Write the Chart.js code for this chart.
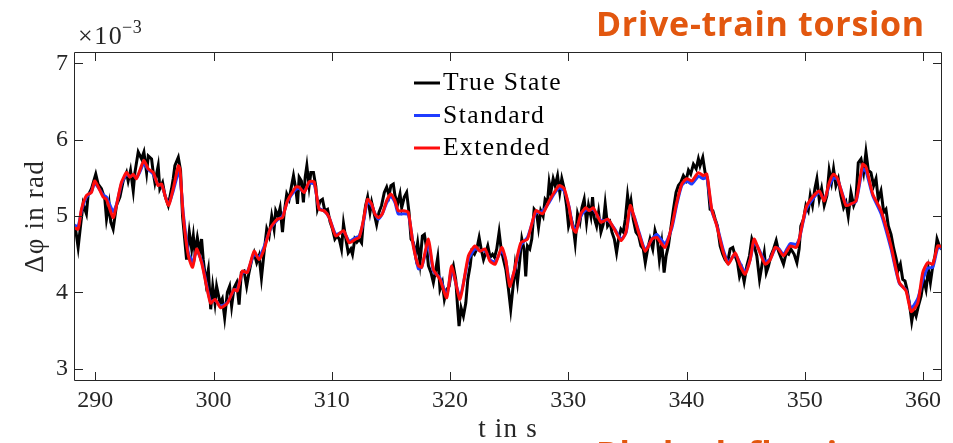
<!DOCTYPE html>
<html>
<head>
<meta charset="utf-8">
<title>Drive-train torsion</title>
<script src="https://cdn.jsdelivr.net/npm/chart.js@4.4.1/dist/chart.umd.min.js"></script>
<style>
    html, body { margin: 0; padding: 0; background: #ffffff; }
    #wrap { width: 953px; height: 443px; }
</style>
</head>
<body>
<div id="wrap"><canvas id="torsionChart" width="953" height="443"></canvas></div>
<script>
// tick positions (t in s, angle in 1e-3 rad)
const xTicks = [290, 300, 310, 320, 330, 340, 350, 360];
const yTicks = [3, 4, 5, 6, 7];

// estimator outputs share one time base
const estTime = [
    288.2, 288.55, 288.83, 289.25, 289.67, 289.96, 290.66, 290.94, 291.51, 291.79,
    292.21, 292.64, 292.93, 293.21, 293.48, 293.77, 294.11, 294.48, 294.9, 295.32,
    295.6, 296.18, 296.59, 297.02, 297.16, 297.44, 297.87, 298.23, 298.57, 298.99,
    299.41, 299.75, 300.13, 300.6, 301.17, 301.73, 302.01, 302.44, 302.86, 303.43,
    303.85, 304.28, 304.83, 305.4, 305.83, 306.25, 306.95, 307.24, 307.66, 308.09,
    308.51, 308.93, 309.36, 309.78, 310.34, 310.99, 311.47, 312.03, 312.32, 312.69,
    313.02, 313.36, 313.64, 313.93, 314.27, 314.63, 315.0, 315.34, 315.62, 316.05,
    316.47, 316.89, 317.32, 317.6, 318.17, 318.59, 319.15, 319.72, 320.14, 320.84,
    321.55, 322.11, 322.54, 322.96, 323.38, 323.81, 324.37, 324.71, 325.05, 325.42,
    325.98, 326.55, 327.25, 327.82, 328.38, 328.8, 329.23, 329.65, 330.07, 330.36,
    330.64, 331.06, 331.49, 331.77, 332.11, 332.76, 333.33, 333.89, 334.45, 334.88,
    335.24, 335.58, 336.0, 336.51, 337.08, 337.48, 338.18, 338.75, 339.17, 339.59,
    340.02, 340.44, 341.0, 341.42, 341.71, 342.13, 342.56, 343.12, 343.54, 344.11,
    344.53, 344.95, 345.38, 345.71, 346.08, 346.65, 347.07, 347.49, 347.77, 348.2,
    348.76, 349.27, 349.53, 350.1, 350.65, 351.22, 351.64, 352.07, 352.43, 352.77,
    353.48, 353.91, 354.33, 354.89, 355.18, 355.74, 356.45, 357.29, 357.99, 358.56,
    358.99, 359.55, 359.97, 360.39, 360.82, 361.24, 361.66
];

const extendedVals = [
    4.85, 4.83, 5.09, 5.27, 5.31, 5.46, 5.25, 5.22, 4.98, 5.14,
    5.44, 5.57, 5.51, 5.55, 5.49, 5.60, 5.73, 5.62, 5.57, 5.40,
    5.42, 5.14, 5.36, 5.66, 5.62, 5.00, 4.48, 4.33, 4.57, 4.39,
    4.08, 3.86, 3.91, 3.80, 3.86, 4.04, 4.02, 4.28, 4.26, 4.54,
    4.43, 4.57, 4.85, 4.96, 4.98, 5.20, 5.38, 5.38, 5.31, 5.45,
    5.45, 5.09, 5.07, 4.98, 4.74, 4.81, 4.65, 4.70, 4.72, 4.96,
    5.22, 5.16, 5.03, 4.98, 5.03, 5.20, 5.29, 5.20, 5.07, 5.07,
    5.05, 4.61, 4.35, 4.33, 4.70, 4.30, 4.17, 3.93, 4.35, 3.91,
    4.48, 4.61, 4.54, 4.57, 4.41, 4.37, 4.59, 4.43, 4.08, 4.28,
    4.65, 4.70, 5.07, 5.03, 5.20, 5.31, 5.40, 5.36, 5.11, 4.85,
    4.79, 5.03, 5.11, 5.07, 5.11, 4.92, 4.96, 4.83, 4.68, 4.79,
    5.14, 4.98, 4.76, 4.54, 4.70, 4.72, 4.59, 4.87, 5.18, 5.42,
    5.49, 5.46, 5.57, 5.53, 5.55, 5.09, 4.87, 4.52, 4.37, 4.52,
    4.35, 4.24, 4.43, 4.70, 4.57, 4.37, 4.43, 4.59, 4.57, 4.48,
    4.61, 4.59, 4.70, 5.11, 5.25, 5.33, 5.20, 5.44, 5.55, 5.49,
    5.14, 5.16, 5.20, 5.68, 5.64, 5.29, 5.07, 4.61, 4.13, 4.02,
    3.75, 3.86, 4.26, 4.39, 4.37, 4.61, 4.59
];

const standardVals = [
    4.88, 4.87, 5.07, 5.25, 5.32, 5.43, 5.28, 5.25, 5.06, 5.15,
    5.42, 5.55, 5.52, 5.54, 5.50, 5.58, 5.69, 5.61, 5.55, 5.41,
    5.41, 5.16, 5.33, 5.57, 5.55, 5.04, 4.52, 4.40, 4.55, 4.41,
    4.10, 3.88, 3.90, 3.82, 3.87, 4.03, 4.04, 4.26, 4.27, 4.50,
    4.46, 4.60, 4.84, 4.95, 5.00, 5.19, 5.35, 5.36, 5.32, 5.43,
    5.42, 5.10, 5.07, 4.98, 4.76, 4.80, 4.67, 4.72, 4.74, 4.93,
    5.19, 5.14, 5.04, 4.96, 5.03, 5.17, 5.26, 5.18, 5.03, 5.03,
    5.02, 4.63, 4.31, 4.33, 4.64, 4.28, 4.19, 3.96, 4.30, 3.95,
    4.43, 4.57, 4.55, 4.55, 4.43, 4.40, 4.55, 4.42, 4.12, 4.27,
    4.62, 4.72, 5.04, 5.06, 5.18, 5.29, 5.37, 5.33, 5.12, 4.88,
    4.82, 5.00, 5.08, 5.08, 5.09, 4.94, 4.95, 4.84, 4.70, 4.78,
    5.10, 4.99, 4.78, 4.56, 4.70, 4.76, 4.64, 4.84, 5.15, 5.40,
    5.46, 5.42, 5.52, 5.49, 5.51, 5.07, 4.88, 4.55, 4.40, 4.50,
    4.38, 4.27, 4.43, 4.66, 4.58, 4.40, 4.44, 4.57, 4.58, 4.50,
    4.64, 4.63, 4.70, 5.08, 5.22, 5.31, 5.22, 5.40, 5.50, 5.48,
    5.16, 5.16, 5.19, 5.62, 5.58, 5.27, 5.03, 4.57, 4.12, 4.03,
    3.79, 3.92, 4.16, 4.32, 4.33, 4.58, 4.58
];

// measured (true) state, finer sampling
const trueTime = [
    288.12, 288.35, 288.55, 288.75, 288.97, 289.25, 289.39, 289.68, 290.04, 290.24,
    290.52, 290.81, 290.95, 291.17, 291.31, 291.51, 291.79, 292.08, 292.36, 292.64,
    292.78, 292.98, 293.21, 293.35, 293.63, 293.91, 294.11, 294.34, 294.48, 294.76,
    294.9, 295.04, 295.32, 295.46, 295.69, 295.89, 296.17, 296.45, 296.59, 296.73,
    297.02, 297.21, 297.38, 297.72, 297.95, 298.15, 298.29, 298.43, 298.63, 298.85,
    298.99, 299.13, 299.36, 299.56, 299.76, 299.93, 300.12, 300.26,
    300.55, 300.74, 300.94, 301.17, 301.36, 301.53, 301.73, 301.96, 302.16, 302.35,
    302.58, 302.8, 303.0, 303.23, 303.43, 303.65, 303.85, 304.05, 304.27, 304.5,
    304.7, 304.92, 305.12, 305.26, 305.46, 305.63, 305.83, 305.97, 306.19, 306.39,
    306.59, 306.76, 306.95, 307.1, 307.24, 307.43, 307.6, 307.75, 307.89, 308.08,
    308.23, 308.45, 308.65, 308.79, 309.02, 309.21, 309.41, 309.64, 309.86, 310.06,
    310.26, 310.43, 310.63, 310.82, 310.99, 311.19, 311.39, 311.61, 311.75, 311.95,
    312.12, 312.32,
    312.52, 312.66, 312.86, 313.03, 313.23, 313.37, 313.59, 313.79, 313.99, 314.21,
    314.44, 314.64, 314.84, 315.0, 315.2, 315.34, 315.57, 315.77, 315.91, 316.13,
    316.33, 316.53, 316.7, 316.9, 317.09, 317.26, 317.46, 317.66, 317.83, 318.03,
    318.17, 318.39, 318.59, 318.79, 318.96, 319.15, 319.35, 319.52, 319.72, 319.92,
    320.09, 320.28, 320.48, 320.65, 320.76, 320.93, 321.13, 321.33, 321.5, 321.7,
    321.84, 322.06, 322.26, 322.46, 322.63, 322.83, 323.02, 323.19, 323.39, 323.59,
    323.76, 323.95, 324.15, 324.32, 324.52, 324.72,
    324.94, 325.13, 325.33, 325.5, 325.7, 325.9, 326.07, 326.26, 326.4, 326.55,
    326.74, 326.91, 327.11, 327.31, 327.48, 327.67, 327.87, 328.04, 328.24, 328.38,
    328.52, 328.72, 328.89, 329.09, 329.28, 329.45, 329.65, 329.85, 330.02, 330.22,
    330.41, 330.58, 330.78, 330.98, 331.15, 331.34, 331.54, 331.71, 331.91, 332.05,
    332.19, 332.39, 332.56, 332.76, 332.95, 333.12, 333.32, 333.52, 333.69, 333.89,
    334.08, 334.25, 334.45, 334.65, 334.82, 335.01, 335.16, 335.3, 335.49, 335.72,
    335.95, 336.14, 336.34, 336.51, 336.71, 336.91,
    337.14, 337.33, 337.53, 337.7, 337.9, 338.1, 338.27, 338.46, 338.66, 338.89,
    339.11, 339.31, 339.51, 339.73, 339.96, 340.16, 340.35, 340.58, 340.81, 341.0,
    341.14, 341.37, 341.57, 341.77, 341.99, 342.22, 342.42, 342.61, 342.84, 343.06,
    343.26, 343.46, 343.69, 343.91, 344.11, 344.31, 344.48, 344.67, 344.87, 345.1,
    345.32, 345.52, 345.72, 345.94, 346.17, 346.37, 346.57, 346.74, 346.93, 347.13,
    347.36, 347.58, 347.78, 347.98, 348.2, 348.43, 348.63, 348.82, 349.1,
    349.33, 349.52, 349.66, 349.89, 350.09, 350.29, 350.46, 350.65, 350.85, 351.02,
    351.22, 351.42, 351.64, 351.87, 352.06, 352.26, 352.43, 352.63, 352.83, 353.05,
    353.28, 353.48, 353.67, 353.9, 354.13, 354.32, 354.52, 354.75, 354.97, 355.17,
    355.37, 355.59, 355.82, 356.02, 356.21, 356.44, 356.67, 356.86, 357.06, 357.29,
    357.51, 357.71, 357.91, 358.08, 358.28, 358.47, 358.64, 358.84, 359.04, 359.21,
    359.41, 359.6, 359.83, 360.05, 360.25, 360.45, 360.62, 360.82, 361.01, 361.18,
    361.38, 361.58, 361.75
];

const trueVals = [
    4.92, 4.81, 4.59, 4.87, 5.16, 5.03, 5.27, 5.36, 5.55, 5.42,
    5.36, 5.22, 4.96, 5.16, 4.92, 4.83, 5.14, 5.25, 5.46, 5.57,
    5.46, 5.60, 5.33, 5.57, 5.84, 5.75, 5.84, 5.57, 5.79, 5.75,
    5.57, 5.44, 5.66, 5.36, 5.44, 5.27, 5.14, 5.36, 5.49, 5.66,
    5.77, 5.60, 5.00, 4.43, 4.79, 4.57, 4.74, 4.52, 4.72, 4.52,
    4.70, 4.43, 4.13, 4.30, 3.78, 4.08, 3.86, 4.08,
    3.86, 3.92, 3.67, 4.00, 4.08, 3.82, 4.06, 4.13, 3.84, 4.26,
    4.28, 4.08, 4.26, 4.43, 4.52, 4.39, 4.48, 4.19, 4.52, 4.83,
    4.74, 5.00, 4.83, 5.07, 5.00, 5.11, 4.79, 5.04, 5.29, 5.22,
    5.39, 5.53, 5.36, 5.16, 5.51, 5.46, 5.18, 5.51, 5.66, 5.39,
    5.57, 5.57, 5.39, 5.09, 5.20, 5.22, 5.07, 5.09, 4.92, 4.83,
    4.70, 4.74, 4.70, 4.57, 4.90, 4.70, 4.52, 4.57, 4.50, 4.70,
    4.66, 4.70,
    4.65, 4.92, 5.14, 5.25, 5.05, 5.18, 5.03, 4.89, 5.05, 5.14,
    5.31, 5.38, 5.27, 5.40, 5.42, 5.27, 5.16, 5.29, 5.11, 5.25,
    5.31, 5.05, 4.70, 4.65, 4.48, 4.65, 4.39, 4.74, 4.76, 4.57,
    4.35, 4.26, 4.13, 4.30, 4.46, 4.04, 4.13, 3.91, 4.04, 4.08,
    4.26, 4.35, 4.17, 3.78, 3.56, 3.80, 3.69, 3.86, 4.17, 4.35,
    4.54, 4.50, 4.57, 4.72, 4.57, 4.43, 4.52, 4.61, 4.46, 4.50,
    4.46, 4.57, 4.79, 4.57, 4.43, 4.30,
    4.04, 3.78, 4.08, 4.35, 4.13, 4.43, 4.70, 4.57, 4.21, 4.61,
    4.57, 4.70, 5.09, 5.05, 4.85, 5.07, 5.00, 5.22, 5.18, 5.44,
    5.31, 5.49, 5.40, 5.53, 5.31, 5.49, 5.36, 5.14, 4.87, 4.98,
    4.87, 4.65, 5.03, 4.92, 5.11, 5.22, 4.92, 5.14, 5.00, 5.25,
    4.98, 4.87, 5.05, 4.79, 4.89, 5.16, 4.87, 4.92, 4.79, 4.70,
    4.52, 4.70, 4.83, 4.79, 4.96, 5.27, 5.09, 5.20, 4.96, 4.79,
    4.74, 4.61, 4.57, 4.39, 4.57, 4.70,
    4.57, 4.81, 4.70, 4.43, 4.65, 4.26, 4.48, 4.61, 4.83, 5.09,
    5.31, 5.40, 5.44, 5.53, 5.47, 5.60, 5.55, 5.68, 5.62, 5.75,
    5.66, 5.77, 5.57, 5.49, 5.09, 5.07, 4.96, 4.87, 4.61, 4.50,
    4.43, 4.39, 4.57, 4.59, 4.48, 4.39, 4.21, 4.30, 4.14, 4.35,
    4.48, 4.70, 4.61, 4.48, 4.17, 4.35, 4.52, 4.26, 4.35, 4.48,
    4.57, 4.68, 4.54, 4.46, 4.37, 4.52, 4.50, 4.57, 4.50,
    4.39, 4.57, 4.87, 4.96, 5.14, 5.07, 5.27, 5.14, 5.36, 5.49,
    5.22, 5.36, 5.14, 5.27, 5.60, 5.44, 5.62, 5.40, 5.49, 5.27,
    5.11, 5.18, 5.00, 5.31, 5.14, 5.22, 5.70, 5.75, 5.57, 5.84,
    5.60, 5.57, 5.40, 5.49, 5.22, 5.33, 5.05, 5.09, 4.87, 4.76,
    4.58, 4.45, 4.30, 4.37, 4.17, 4.15, 4.04, 3.86, 3.62, 3.78,
    3.69, 3.82, 3.95, 4.17, 4.04, 4.30, 4.13, 4.35, 4.48, 4.70,
    4.61, 4.57, 4.54
];

const toPoints = (times, vals) => times.map((t, i) => ({ x: t, y: vals[i] }));

const serifFont = '"Liberation Serif", "DejaVu Serif", serif';
const axisColor = '#262626';

// MATLAB-like box with inward ticks on all four sides
const axesBoxPlugin = {
    id: 'axesBox',
    afterDraw: function (chart) {
        const ctx = chart.ctx;
        const { left, right, top, bottom } = chart.chartArea;
        const xs = chart.scales.x;
        const ys = chart.scales.y;
        const tick = 9;
        ctx.save();
        ctx.strokeStyle = axisColor;
        ctx.lineWidth = 1;
        ctx.beginPath();
        ctx.rect(left + 0.5, top + 0.5, right - left - 1, bottom - top - 1);
        xTicks.forEach(v => {
            const px = Math.round(xs.getPixelForValue(v)) + 0.5;
            ctx.moveTo(px, bottom);
            ctx.lineTo(px, bottom - tick);
            ctx.moveTo(px, top);
            ctx.lineTo(px, top + tick);
        });
        yTicks.forEach(v => {
            const py = Math.round(ys.getPixelForValue(v)) + 0.5;
            ctx.moveTo(left, py);
            ctx.lineTo(left + tick, py);
            ctx.moveTo(right, py);
            ctx.lineTo(right - tick, py);
        });
        ctx.stroke();
        ctx.restore();
    }
};

// legend inside the axes, top centre, no frame
const insideLegendPlugin = {
    id: 'insideLegend',
    afterDraw: function (chart) {
        const ctx = chart.ctx;
        ctx.save();
        ctx.font = '25.6px ' + serifFont;
        ctx.letterSpacing = '1.4px';
        ctx.textAlign = 'left';
        ctx.textBaseline = 'alphabetic';
        chart.data.datasets.forEach((ds, i) => {
            const base = 90 + i * 32.5;
            ctx.strokeStyle = ds.borderColor;
            ctx.lineWidth = 3;
            ctx.beginPath();
            ctx.moveTo(414, base - 7);
            ctx.lineTo(440, base - 7);
            ctx.stroke();
            ctx.fillStyle = '#000000';
            ctx.fillText(ds.label, 443, base);
        });
        ctx.restore();
    }
};

// axis titles, exponent and the slide headings
const labelsPlugin = {
    id: 'labels',
    afterDraw: function (chart) {
        const ctx = chart.ctx;
        const { left, right, top, bottom } = chart.chartArea;
        ctx.save();
        ctx.fillStyle = axisColor;

        ctx.font = '26px ' + serifFont;
        ctx.letterSpacing = '1.5px';
        ctx.textAlign = 'left';
        ctx.textBaseline = 'alphabetic';
        ctx.fillText('\u00d710', 78, 44);
        ctx.font = '18px ' + serifFont;
        ctx.letterSpacing = '0.5px';
        ctx.fillText('\u22123', 122, 33);

        ctx.font = '27px ' + serifFont;
        ctx.letterSpacing = '1.2px';
        ctx.textAlign = 'center';
        ctx.textBaseline = 'middle';
        ctx.fillText('t in s', (left + right) / 2, 430);

        ctx.translate(36, (top + bottom) / 2);
        ctx.rotate(-Math.PI / 2);
        ctx.fillText('\u0394\u03c6 in rad', 0, 0);
        ctx.setTransform(1, 0, 0, 1, 0, 0);

        ctx.fillStyle = '#E2570F';
        ctx.font = 'bold 34px "Open Sans", Lato, sans-serif';
        ctx.letterSpacing = '0.7px';
        ctx.textAlign = 'left';
        ctx.textBaseline = 'alphabetic';
        ctx.fillText('Drive-train torsion', 596, 36);
        ctx.fillText('Blade deflection', 596, 466);
        ctx.restore();
    }
};

const config = {
    type: 'line',
    data: {
        datasets: [
            {
                label: 'True State',
                data: toPoints(trueTime, trueVals),
                borderColor: '#000000',
                borderWidth: 3,
                tension: 0,
                order: 3
            },
            {
                label: 'Standard',
                data: toPoints(estTime, standardVals),
                borderColor: '#1f3cff',
                borderWidth: 3,
                tension: 0.2,
                order: 2
            },
            {
                label: 'Extended',
                data: toPoints(estTime, extendedVals),
                borderColor: '#ff0c0c',
                borderWidth: 3,
                tension: 0.2,
                order: 1
            }
        ]
    },
    options: {
        responsive: false,
        animation: false,
        devicePixelRatio: 1,
        elements: {
            point: { radius: 0, hoverRadius: 0 }
        },
        layout: {
            padding: { top: 52, right: 11, left: 0, bottom: 0 }
        },
        plugins: {
            legend: { display: false },
            tooltip: { enabled: false },
            title: { display: false }
        },
        scales: {
            x: {
                type: 'linear',
                min: 288.2,
                max: 361.6,
                afterBuildTicks: (scale) => { scale.ticks = xTicks.map(v => ({ value: v })); },
                afterFit: (scale) => { scale.height = 62; },
                grid: { display: false, drawTicks: false },
                border: { display: false },
                ticks: {
                    padding: 5,
                    maxRotation: 0,
                    color: axisColor,
                    font: { family: serifFont, size: 24 }
                }
            },
            y: {
                type: 'linear',
                min: 2.84,
                max: 7.15,
                afterBuildTicks: (scale) => { scale.ticks = yTicks.map(v => ({ value: v })); },
                afterFit: (scale) => { scale.width = 74; },
                grid: { display: false, drawTicks: false },
                border: { display: false },
                ticks: {
                    padding: 6,
                    color: axisColor,
                    font: { family: serifFont, size: 24 }
                }
            }
        }
    },
    plugins: [axesBoxPlugin, insideLegendPlugin, labelsPlugin]
};

const ctx = document.getElementById('torsionChart').getContext('2d');
const torsionChart = new Chart(ctx, config);
</script>
</body>
</html>
